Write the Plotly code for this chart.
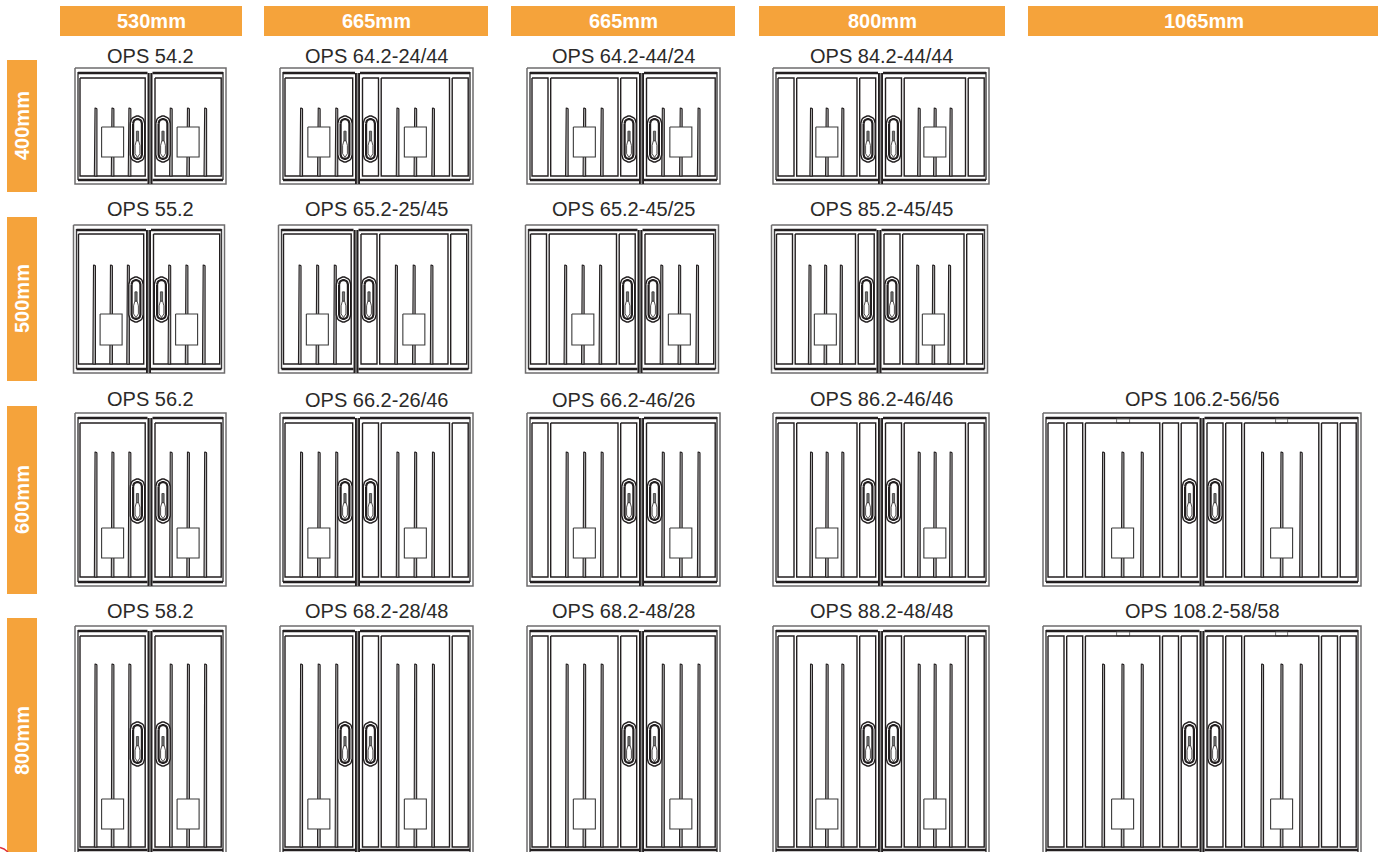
import numpy as np
import plotly.graph_objects as go

# ---------- content ----------
WIDTH_LABELS = ["530mm", "665mm", "665mm", "800mm", "1065mm"]
HEIGHT_LABELS = ["400mm", "500mm", "600mm", "800mm"]
MODELS = [
    ["OPS 54.2", "OPS 64.2-24/44", "OPS 64.2-44/24", "OPS 84.2-44/44", None],
    ["OPS 55.2", "OPS 65.2-25/45", "OPS 65.2-45/25", "OPS 85.2-45/45", None],
    ["OPS 56.2", "OPS 66.2-26/46", "OPS 66.2-46/26", "OPS 86.2-46/46", "OPS 106.2-56/56"],
    ["OPS 58.2", "OPS 68.2-28/48", "OPS 68.2-48/28", "OPS 88.2-48/48", "OPS 108.2-58/58"],
]
# side strips per door: left door (outer, inner), right door (inner, outer)
STRIPS = [((0, 0), (0, 0)), ((0, 0), (1, 1)), ((1, 1), (0, 0)), ((1, 1), (1, 1)), ((2, 2), (2, 2))]

# ---------- page layout ----------
HEAD_SPANS = [(60, 242), (264, 488), (511, 735), (759, 1005), (1028, 1378)]
SIDE_SPANS = [(60, 192), (217, 381), (406, 594), (618, 864)]
COL_SPANS = [(75, 226), (280, 473), (527, 720), (773, 989), (1043, 1361)]
COL_CENTRES = [150, 357.5, 641.5, 880.5, 1202]
ROW_DX = [0, -1.5, 0, 0]
ROW_GEOM = [
    dict(top=68, rail=73, ptop=78, pbot=176, brail=180, bot=184, rod=108, box=(127, 157), hnd=(116, 162), lab=56),
    dict(top=225, rail=230, ptop=234, pbot=364, brail=369, bot=373, rod=265, box=(314, 345), hnd=(277, 322), lab=209),
    dict(top=413, rail=418, ptop=423, pbot=577, brail=582, bot=586, rod=452, box=(528, 558), hnd=(479, 523), lab=398.5),
    dict(top=626, rail=631, ptop=636, pbot=847, brail=850, bot=858, rod=664, box=(799, 829), hnd=(722, 766), lab=611),
]
LAB_X = [150, 376.5, 623.5, 881.5, 1202]
LAB_NUDGE = {(2, 1): 1.5, (2, 2): 1.5}
ORANGE = "#F5A33B"
INK = "#231F20"


class Path:
    def __init__(self):
        self.x, self.y = [], []

    def add(self, xs, ys):
        self.x += list(xs) + [None]
        self.y += list(ys) + [None]

    def rect(self, x0, y0, x1, y1):
        self.add([x0, x1, x1, x0, x0], [y0, y0, y1, y1, y0])

    def line(self, x0, y0, x1, y1):
        self.add([x0, x1], [y0, y1])

    def stadium(self, x0, y0, x1, y1):
        r = (x1 - x0) / 2
        cx = (x0 + x1) / 2
        a = np.linspace(np.pi, 2 * np.pi, 12)
        xs = list(cx + r * np.cos(a)) + list(cx - r * np.cos(a))
        ys = list(y0 + r + r * np.sin(a)) + list(y1 - r - r * np.sin(a))
        self.add(xs + xs[:1], ys + ys[:1])

    def rod(self, x, y0, y1, w=1.3):
        a = np.linspace(np.pi, 2 * np.pi, 7)
        self.add([x - w] + list(x + w * np.cos(a)) + [x + w, x - w],
                 [y1] + list(y0 + w + w * np.sin(a)) + [y1, y1])


outer, inner, rails, mull, mullc, dark, rods, boxfill, boxline, hfill, hline, hthick, keyd, keyw, tabs = (
    Path() for _ in range(15))


def door(xa, xb, n_a, n_b, g):
    """xa..xb interior of a door; n_a/n_b strips on each side."""
    strip, gap = 16.0, 2.7
    x = xa
    for _ in range(n_a):
        dark.rect(x, g["ptop"], x + strip, g["pbot"])
        x += strip + gap
    m0 = x
    x = xb
    for _ in range(n_b):
        dark.rect(x - strip, g["ptop"], x, g["pbot"])
        x -= strip + gap
    m1 = x
    dark.rect(m0, g["ptop"], m1, g["pbot"])
    mid = (m0 + m1) / 2
    step = (m1 - m0) * 0.26
    for k in (-1, 0, 1):
        rods.rod(mid + k * step, g["rod"], g["pbot"])
    boxfill.rect(mid - 11, g["box"][0], mid + 11, g["box"][1])
    boxline.rect(mid - 11, g["box"][0], mid + 11, g["box"][1])
    return mid


def handle(cx, g):
    y0, y1 = g["hnd"]
    hfill.stadium(cx - 7.2, y0, cx + 7.2, y1)
    hline.stadium(cx - 7.2, y0, cx + 7.2, y1)
    hthick.stadium(cx - 4.4, y0 + 3, cx + 4.4, y1 - 3)
    h = y1 - y0
    keyd.add([cx - 1.1, cx + 1.1, cx + 1.1, cx - 1.1, cx - 1.1],
             [y0 + 0.33 * h, y0 + 0.33 * h, y0 + 0.54 * h, y0 + 0.54 * h, y0 + 0.33 * h])
    keyw.add([cx - 1.2, cx + 1.2, cx + 2.4, cx + 2.4, cx, cx - 2.4, cx - 2.4, cx - 1.2],
             [y0 + 0.54 * h, y0 + 0.54 * h, y0 + 0.64 * h, y0 + 0.82 * h, y0 + 0.9 * h, y0 + 0.82 * h, y0 + 0.64 * h, y0 + 0.54 * h])


for r, row in enumerate(MODELS):
    g = ROW_GEOM[r]
    for c, name in enumerate(row):
        if name is None:
            continue
        x0, x1 = (v + ROW_DX[r] for v in COL_SPANS[c])
        cx = COL_CENTRES[c] + ROW_DX[r]
        outer.rect(x0, g["top"], x1, g["bot"])
        inner.line(x0 + 3, g["top"] + 4, x0 + 3, g["bot"] - 4)
        inner.line(x1 - 3, g["top"] + 4, x1 - 3, g["bot"] - 4)
        for a, b in ((x0 + 3, cx - 2.5), (cx + 2.5, x1 - 3)):
            rails.line(a, g["rail"], b, g["rail"])
            rails.line(a, g["brail"], b, g["brail"])
        mull.line(cx, g["rail"], cx, g["bot"])
        mullc.line(cx, g["rail"], cx, g["bot"])
        (la, lb), (ra, rb) = STRIPS[c]
        m_l = door(x0 + 5, cx - 4.8, la, lb, g)
        m_r = door(cx + 5, x1 - 4.8, ra, rb, g)
        handle(cx - 12.5, g)
        handle(cx + 13, g)
        if c == 4:
            tabs.rect(m_l - 6, g["rail"] + 1, m_l + 7, g["ptop"])
            tabs.rect(m_r - 6, g["rail"] + 1, m_r + 6, g["ptop"])

fig = go.Figure()


def band(x0, y0, x1, y1):
    fig.add_trace(go.Scatter(x=[x0, x1, x1, x0, x0], y=[y0, y0, y1, y1, y0], mode="lines", fill="toself",
                             fillcolor=ORANGE, line=dict(width=0, color=ORANGE), hoverinfo="skip"))


for (a, b) in HEAD_SPANS:
    band(a, 6, b, 36)
for (a, b) in SIDE_SPANS:
    band(7, a, 37, b)


def stroke(p, color, width, fill=None):
    fig.add_trace(go.Scatter(x=p.x, y=p.y, mode="lines", line=dict(color=color, width=width),
                             fill="toself" if fill else None, fillcolor=fill, hoverinfo="skip", connectgaps=False))


stroke(outer, "#6E6C6D", 1.5)
stroke(inner, "#3A3839", 1.4)
stroke(rails, INK, 2.4)
stroke(tabs, "#666666", 0.9, "#FFFFFF")
stroke(dark, INK, 1.4)
stroke(rods, INK, 1.1, "#B5B5B5")
stroke(mull, INK, 5)
stroke(mullc, "#8A8A8A", 1.4)
stroke(boxfill, "rgba(255,255,255,0)", 0, "#FFFFFF")
stroke(boxline, "#3A3A3A", 1.1)
stroke(hfill, "rgba(255,255,255,0)", 0, "#FFFFFF")
stroke(hline, INK, 1.4)
stroke(hthick, INK, 2.2)
stroke(keyd, "#333333", 0.8, "#777777")
stroke(keyw, INK, 0.8, "#FFFFFF")

# small red mark clipped in the lower-left corner
fig.add_trace(go.Scatter(x=[0, 4, 8], y=[847.5, 849, 852], mode="lines", line=dict(color="#E0303A", width=1.5),
                         hoverinfo="skip"))

ann = []
for label, (a, b) in zip(WIDTH_LABELS, HEAD_SPANS):
    ann.append(dict(x=(a + b) / 2 + 0.5, y=21, text=f"<b>{label}</b>", font=dict(size=20, color="#FFFFFF")))
for label, (a, b) in zip(HEIGHT_LABELS, SIDE_SPANS):
    ann.append(dict(x=22, y=(a + b) / 2, text=f"<b>{label}</b>", textangle=-90,
                    font=dict(size=20, color="#FFFFFF")))
for r, row in enumerate(MODELS):
    for c, name in enumerate(row):
        if name:
            ann.append(dict(x=LAB_X[c], y=ROW_GEOM[r]["lab"] + LAB_NUDGE.get((r, c), 0), text=name,
                            font=dict(size=20, color="#2B2A29")))
for a in ann:
    a.update(xref="x", yref="y", showarrow=False, xanchor="center", yanchor="middle")

fig.update_layout(
    width=1378, height=852, margin=dict(l=0, r=0, t=0, b=0), showlegend=False,
    paper_bgcolor="#FFFFFF", plot_bgcolor="#FFFFFF",
    font=dict(family="Liberation Sans, Arial, sans-serif"),
    xaxis=dict(range=[0, 1378], visible=False, fixedrange=True),
    yaxis=dict(range=[852, 0], visible=False, fixedrange=True),
    annotations=ann,
)
fig.write_html("out.html", config={"displayModeBar": False},
               post_script="document.body.style.margin='0';document.body.style.overflow='hidden';")
